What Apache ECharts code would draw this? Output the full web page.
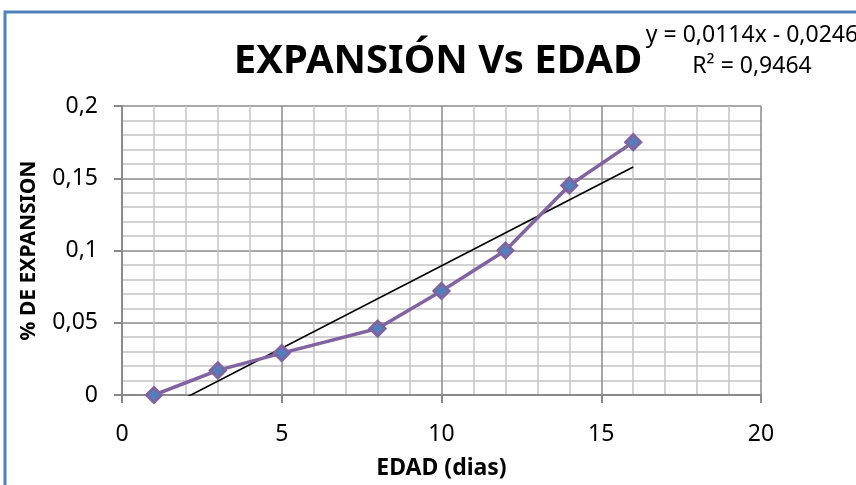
<!DOCTYPE html>
<html>
<head>
<meta charset="utf-8">
<script src="https://cdn.jsdelivr.net/npm/echarts@6/dist/echarts.min.js"></script>
<style>
  html, body { margin: 0; padding: 0; background: #fff; }
  #chart { width: 856px; height: 485px; }
</style>
</head>
<body>
<div id="chart"></div>
<script>
// Expansion measurements by age
const edadDias = [1, 3, 5, 8, 10, 12, 14, 16];
const expansion = [0, 0.017, 0.029, 0.046, 0.072, 0.1, 0.145, 0.175];

// Linear trendline coefficients (slope, intercept) and R²
const trendCoef = [0.0114, -0.0246];
const rSquared = 0.9464;

// Axis ranges / tick steps
const xRange = [0, 20, 5];
const yRange = [0, 0.2, 0.05];

const comma = v => String(v).replace('.', ',');

const seriesData = edadDias.map((x, i) => [x, expansion[i]]);
const xFirst = edadDias[0];
const xLast = edadDias[edadDias.length - 1];
// Trendline over the data range; the part below y = 0 is clipped by the grid
const trendData = [xFirst, xLast].map(x => [x, trendCoef[0] * x + trendCoef[1]]);

const eqText = 'y = ' + comma(trendCoef[0]) + 'x - ' + comma(Math.abs(trendCoef[1]));
const r2Text = 'R² = ' + comma(rSquared);

const FONT = 'Noto Sans';
const majorColor = '#8a8a8a';
const minorColor = '#c3c3c3';

const chart = echarts.init(document.getElementById('chart'), null, { renderer: 'canvas' });

chart.setOption({
  animation: false,
  backgroundColor: '#ffffff',
  textStyle: { fontFamily: FONT, color: '#000' },
  title: [
    {
      text: 'EXPANSIÓN Vs EDAD',
      left: 433, top: 37, textAlign: 'center',
      textStyle: { fontFamily: FONT, fontWeight: 'bold', fontSize: 40, color: '#000' }
    },
    {
      text: eqText + '\n' + r2Text,
      left: 747, top: 15, textAlign: 'center',
      textStyle: { fontFamily: FONT, fontWeight: 'normal', fontSize: 23, lineHeight: 31, color: '#000' }
    }
  ],
  graphic: [
    {
      // chart frame
      type: 'rect',
      shape: { x: 5, y: 12, width: 900, height: 520 },
      style: { fill: 'none', stroke: '#4f81bd', lineWidth: 3 },
      silent: true
    }
  ],
  grid: { left: 122, right: 95, top: 106, bottom: 89, containLabel: false },
  xAxis: {
    type: 'value',
    min: xRange[0], max: xRange[1], interval: xRange[2],
    name: 'EDAD (dias)',
    nameLocation: 'middle',
    nameGap: 62,
    nameTextStyle: { fontFamily: FONT, fontWeight: 'bold', fontSize: 23, color: '#000' },
    axisLine: { show: true, onZero: false, lineStyle: { color: majorColor, width: 2 } },
    axisTick: { show: true, length: 8, lineStyle: { color: majorColor, width: 2 } },
    axisLabel: { fontFamily: FONT, fontSize: 23, color: '#000', margin: 28, formatter: comma },
    splitLine: { show: true, lineStyle: { color: majorColor, width: 1.5 } },
    minorTick: { show: false, splitNumber: 5 },
    minorSplitLine: { show: true, lineStyle: { color: minorColor, width: 1.5 } }
  },
  yAxis: {
    type: 'value',
    min: yRange[0], max: yRange[1], interval: yRange[2],
    name: '% DE EXPANSION',
    nameLocation: 'middle',
    nameGap: 82,
    nameTextStyle: { fontFamily: FONT, fontWeight: 'bold', fontSize: 21, color: '#000' },
    axisLine: { show: true, onZero: false, lineStyle: { color: majorColor, width: 2 } },
    axisTick: { show: true, length: 8, lineStyle: { color: majorColor, width: 2 } },
    axisLabel: { fontFamily: FONT, fontSize: 23, color: '#000', margin: 24, formatter: comma },
    splitLine: { show: true, lineStyle: { color: majorColor, width: 1.5 } },
    minorTick: { show: false, splitNumber: 5 },
    minorSplitLine: { show: true, lineStyle: { color: minorColor, width: 1.5 } }
  },
  series: [
    {
      name: 'Lineal',
      type: 'line',
      data: trendData,
      clip: true,
      showSymbol: false,
      symbol: 'none',
      lineStyle: { color: '#000', width: 1.6 },
      z: 3
    },
    {
      name: 'Expansión',
      type: 'line',
      data: seriesData,
      symbol: 'diamond',
      symbolSize: 15,
      lineStyle: { color: '#8064a2', width: 3.5 },
      itemStyle: { color: '#4f81bd', borderColor: '#8064a2', borderWidth: 3 },
      z: 4
    }
  ]
});
</script>
</body>
</html>
